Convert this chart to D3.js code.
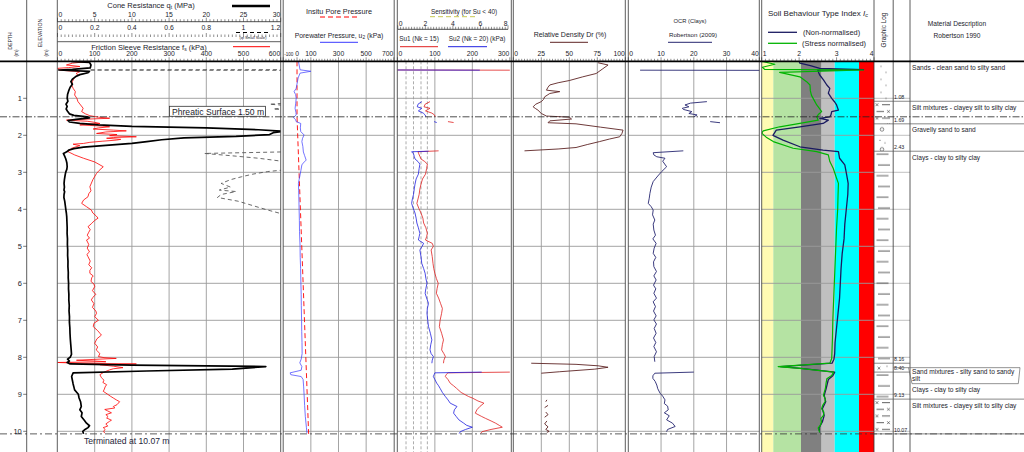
<!DOCTYPE html>
<html><head><meta charset="utf-8">
<script src="https://cdn.jsdelivr.net/npm/d3@7/dist/d3.min.js"></script>
<style>body{margin:0;background:#fff}svg{display:block;font-family:"Liberation Sans",Arial,sans-serif}</style>
</head><body><svg id="c" width="1024" height="452"></svg>
<script>
// ---------------- DATA ----------------
const depthTicks=[1,2,3,4,5,6,7,8,9,10];
const qcTicks=[0,5,10,15,20,25,30];
const qcSmallTicks=[0,0.2,0.4,0.6,0.8,1,1.2];
const fsTicks=[0,100,200,300,400,500,600];
const uTicks=[-100,0,100,300,500,700];
const uGrid=[100,300,500];
const sensTicks=[0,2,4,6,8];
const suTicks=[0,100,200,300];
const suRefLines=[23,43,63,80];
const drTicks=[0,25,50,75,100];
const ocrTicks=[0,10,20,30,40];
const icTicks=[1,2,3,4];
const icZoneBounds=[1,1.31,2.05,2.60,2.95,3.60,4];
const icZoneColors=["#fffbb3","#b5e3a3","#808080","#c0c0c0","#00ffff","#ff0000"];
const phreatic=1.50;
const termination=10.07;

// [depth m, qc MPa]
const qc=[[0,1.8],[0.03,4.3],[0.10,4.5],[0.18,4.4],[0.22,2.0],[0.235,0.17],[0.27,4.3],[0.31,4.1],[0.36,3.0],[0.42,2.4],[0.48,2.0],[0.55,1.8],[0.62,2.0],[0.70,1.7],[0.80,1.5],[0.90,1.35],[1.0,1.3],[1.08,1.4],[1.16,1.14],[1.22,1.3],[1.29,1.16],[1.35,1.35],[1.42,1.6],[1.46,2.2],[1.50,4.0],[1.53,4.3],[1.57,2.5],[1.60,1.4],[1.64,1.6],[1.68,3.0],[1.72,5.5],[1.76,10],[1.80,20],[1.85,27],[1.89,30.5],[1.93,29],[1.98,28.5],[2.03,24],[2.07,17],[2.12,14],[2.17,12],[2.22,10],[2.27,6.5],[2.32,3.5],[2.36,2.2],[2.40,1.5],[2.44,1.3],[2.47,1.0],[2.49,0.79],[2.55,0.93],[2.62,1.08],[2.69,1.19],[2.75,1.26],[2.85,1.3],[2.92,1.25],[2.98,1.13],[3.05,1.05],[3.12,0.99],[3.2,0.93],[3.3,0.88],[3.4,0.93],[3.48,0.87],[3.52,0.96],[3.6,0.88],[3.68,0.86],[3.78,0.97],[3.9,1.05],[4.02,1.13],[4.1,1.19],[4.2,1.24],[4.35,1.27],[4.5,1.3],[4.65,1.29],[4.8,1.34],[4.95,1.33],[5.1,1.37],[5.25,1.36],[5.4,1.41],[5.55,1.4],[5.7,1.45],[5.85,1.44],[6.0,1.49],[6.15,1.48],[6.3,1.53],[6.45,1.52],[6.6,1.58],[6.75,1.55],[6.9,1.61],[7.05,1.6],[7.2,1.66],[7.35,1.68],[7.5,1.72],[7.65,1.78],[7.8,1.84],[7.92,1.88],[8.0,1.7],[8.05,1.35],[8.1,1.6],[8.14,1.3],[8.18,1.7],[8.21,10],[8.25,28],[8.32,23.5],[8.37,12],[8.42,2.1],[8.52,1.9],[8.62,2.0],[8.72,2.1],[8.8,2.2],[8.88,2.3],[8.95,2.6],[9.0,2.8],[9.1,2.9],[9.2,3.1],[9.33,3.2],[9.42,3.0],[9.5,3.3],[9.6,3.2],[9.7,3.6],[9.78,3.9],[9.85,4.3],[9.9,4.1],[9.95,3.7],[10.0,3.4],[10.07,3.5]];

// [depth, fs kPa]
const fs=[[0.01,78],[0.05,40],[0.10,24],[0.14,60],[0.17,30],[0.19,0],[0.24,6],[0.28,60],[0.33,50],[0.37,55],[0.45,45],[0.55,40],[0.64,38],[0.73,42],[0.82,48],[0.91,46],[1.0,52],[1.09,55],[1.18,62],[1.27,69],[1.36,65],[1.42,75],[1.47,87],[1.51,110],[1.54,140],[1.57,60],[1.59,24],[1.62,80],[1.65,100],[1.68,114],[1.70,75],[1.72,60],[1.75,120],[1.77,140],[1.80,110],[1.83,96],[1.86,150],[1.88,185],[1.91,130],[1.95,105],[1.98,160],[2.01,140],[2.04,212],[2.06,150],[2.08,132],[2.11,170],[2.13,158],[2.16,120],[2.19,87],[2.22,70],[2.24,42],[2.28,60],[2.31,50],[2.35,38],[2.40,33],[2.44,28],[2.53,46],[2.62,70],[2.72,100],[2.85,123],[2.95,112],[3.03,105],[3.2,95],[3.39,87],[3.5,90],[3.58,84],[3.66,82],[3.75,70],[3.84,65],[3.93,78],[4.02,91],[4.1,95],[4.18,104],[4.24,109],[4.3,100],[4.38,92],[4.47,82],[4.55,88],[4.62,84],[4.7,80],[4.78,86],[4.83,78],[4.95,84],[5.05,80],[5.15,86],[5.22,79],[5.28,82],[5.4,88],[5.5,84],[5.58,92],[5.65,87],[5.73,87],[5.8,96],[5.85,92],[5.95,90],[6.02,98],[6.09,100],[6.2,94],[6.3,103],[6.38,95],[6.45,91],[6.55,98],[6.65,94],[6.75,103],[6.81,105],[6.9,100],[7.0,110],[7.08,98],[7.17,96],[7.28,108],[7.35,114],[7.40,118],[7.5,106],[7.62,100],[7.72,108],[7.8,104],[7.90,114],[7.98,110],[8.01,125],[8.03,158],[8.06,90],[8.08,51],[8.10,100],[8.12,130],[8.14,0],[8.16,60],[8.18,212],[8.2,114],[8.24,150],[8.28,176],[8.31,150],[8.34,140],[8.4,125],[8.47,114],[8.55,118],[8.62,125],[8.68,122],[8.74,132],[8.8,128],[8.86,126],[8.92,123],[9.0,135],[9.05,142],[9.1,150],[9.15,158],[9.2,167],[9.28,160],[9.33,150],[9.37,154],[9.41,127],[9.45,135],[9.5,145],[9.55,130],[9.6,136],[9.64,132],[9.7,145],[9.73,140],[9.8,130],[9.86,135],[9.9,123],[9.95,128],[10.0,124],[10.05,127]];

// [depth, u2 kPa]
const u2=[[0,10],[0.23,22],[0.27,100],[0.32,22],[0.45,8],[0.55,3],[0.73,-6],[0.82,-21],[0.9,-10],[1.0,-6],[1.15,-10],[1.27,-14],[1.38,-8],[1.45,-6],[1.52,-26],[1.58,-10],[1.63,-6],[1.68,27],[1.8,24],[1.9,27],[1.99,51],[2.08,40],[2.17,35],[2.3,42],[2.45,46],[2.55,55],[2.67,66],[2.75,45],[2.8,35],[2.95,28],[3.07,22],[3.2,15],[3.3,10],[3.5,12],[3.8,14],[4.0,15],[4.3,17],[4.6,18],[5.0,22],[5.3,23],[5.6,26],[6.0,28],[6.3,30],[6.6,31],[7.0,33],[7.3,34],[7.6,36],[7.9,37],[8.05,30],[8.15,20],[8.25,35],[8.35,30],[8.42,-50],[8.47,-45],[8.52,30],[8.6,44],[8.8,48],[9.0,51],[9.3,55],[9.6,60],[9.9,68],[10.05,72]];
// hydrostatic u0
const u0=[[0,0],[1.5,0],[10.07,84]];

// [depth, Su kPa], [null,null] = gap
const su1=[[0.235,0],[0.24,300],[null,null],[1.09,87],[1.16,74],[1.23,71],[1.27,87],[1.34,75],[1.40,92],[1.45,99],[1.50,101],[null,null],[1.63,135],[1.655,150],[null,null],[2.42,110],[2.445,55],[2.5,57],[2.57,60],[2.64,63],[2.71,73],[2.78,80],[2.9,78],[3.05,75],[3.18,67],[3.32,63],[3.45,60],[3.6,58],[3.72,55],[3.84,52],[3.97,57],[4.1,63],[4.24,68],[4.37,70],[4.5,76],[4.65,80],[4.74,78],[4.83,75],[4.92,93],[5.0,96],[5.1,90],[5.28,93],[5.46,95],[5.6,97],[5.73,100],[5.87,104],[6.0,109],[6.14,106],[6.27,104],[6.4,110],[6.54,115],[6.68,120],[6.81,118],[7.0,114],[7.17,112],[7.35,118],[7.53,123],[7.66,120],[7.8,118],[7.9,124],[7.98,128],[8.08,124],[8.16,123],[null,null],[8.40,300],[8.42,135],[8.47,130],[8.52,128],[8.6,135],[8.7,141],[8.77,150],[8.84,158],[8.95,170],[9.06,190],[9.1,200],[9.18,215],[9.24,231],[9.33,220],[9.42,212],[9.51,208],[9.6,225],[9.65,235],[9.72,250],[9.78,262],[9.84,272],[9.89,280],[9.95,250],[10.01,226],[10.06,222]];
const su2=[[0.235,0],[0.24,220],[null,null],[1.09,65],[1.16,55],[1.23,53],[1.27,65],[1.34,56],[1.40,69],[1.45,74],[1.50,76],[null,null],[1.63,98],[1.655,105],[null,null],[2.43,83],[2.445,38],[2.5,43],[2.57,45],[2.64,47],[2.71,55],[2.78,60],[2.9,58],[3.05,56],[3.18,50],[3.32,47],[3.45,45],[3.6,43],[3.72,40],[3.84,38],[3.97,42],[4.1,47],[4.24,50],[4.37,52],[4.5,56],[4.65,60],[4.74,58],[4.83,56],[4.92,70],[5.0,66],[5.1,60],[5.28,63],[5.46,65],[5.6,70],[5.73,74],[5.87,76],[6.0,79],[6.14,76],[6.27,74],[6.4,78],[6.54,83],[6.68,80],[6.81,79],[7.0,81],[7.17,83],[7.35,88],[7.53,92],[7.66,89],[7.8,87],[7.9,90],[7.98,96],[8.08,93],[8.16,92],[null,null],[8.40,225],[8.42,100],[8.47,98],[8.52,96],[8.6,100],[8.7,105],[8.77,110],[8.84,114],[8.95,120],[9.06,128],[9.15,135],[9.24,141],[9.33,159],[9.42,152],[9.51,150],[9.6,157],[9.69,164],[9.78,177],[9.84,185],[9.89,200],[9.95,182],[10.01,168],[10.06,165]];

// [depth, Dr %]
const dr=[[0.04,75.7],[0.10,84.6],[0.2,80],[0.33,74],[0.42,62],[0.52,50],[0.58,40],[0.64,32.6],[0.70,31],[0.78,29.6],[0.82,41.5],[0.87,32.6],[0.96,28],[1.03,27],[1.09,25],[1.16,20],[1.23,17.7],[1.28,20],[1.32,22],[1.41,25],[1.48,29.6],[1.51,50],[1.56,52],[1.61,32.6],[1.66,31],[1.69,56],[1.78,78],[1.86,98],[1.95,97],[2.04,95],[2.1,86],[2.17,77],[2.25,66],[2.33,56],[2.37,40],[2.42,10],[null,null],[8.16,16],[8.19,56],[8.23,75.7],[8.27,84.6],[8.32,72.8],[8.39,41.5],[8.43,25],[null,null],[9.15,30],[9.2,29],[null,null],[9.3,31],[9.36,28],[null,null],[9.48,29],[9.55,31],[9.62,28],[null,null],[9.72,30],[9.8,28],[9.88,31],[9.95,29],[10.0,32],[10.03,30]];

// [depth, OCR]
const ocr=[[0.24,3.6],[0.245,45],[null,null],[1.09,24],[1.13,19],[1.18,17.3],[1.23,18.5],[1.27,16.5],[1.30,16.8],[1.36,19.4],[1.41,18.5],[1.45,21],[1.5,20],[null,null],[1.63,25],[1.66,28],[null,null],[2.42,16.8],[2.47,7.6],[2.53,7.8],[2.58,8.7],[2.62,11.2],[2.7,10.5],[2.85,11.7],[2.98,10.2],[3.1,9.0],[3.25,7.6],[3.4,7.0],[3.57,6.6],[3.7,6.4],[3.84,6.1],[3.93,7.0],[4.02,7.6],[4.15,7.4],[4.29,8.1],[4.4,7.6],[4.56,7.8],[4.7,8.3],[4.8,7.5],[4.92,8.5],[5.05,7.9],[5.19,7.6],[5.3,8.4],[5.42,7.7],[5.55,7.8],[5.68,8.6],[5.8,7.8],[5.91,8.5],[6.05,7.7],[6.15,8.4],[6.27,7.8],[6.4,8.6],[6.5,7.6],[6.63,8.3],[6.75,7.7],[6.88,8.5],[6.99,7.8],[7.1,8.6],[7.22,7.9],[7.35,8.5],[7.48,7.7],[7.6,8.4],[7.71,7.8],[7.85,8.6],[7.98,7.9],[8.12,8.1],[null,null],[8.40,20],[8.43,8.1],[8.5,7.5],[8.57,7.5],[8.65,8.2],[8.75,8.7],[8.85,9.0],[8.97,9.7],[9.05,10.5],[9.15,11.2],[9.25,11.0],[9.32,12.0],[9.42,12.2],[9.5,11.0],[9.58,12.5],[9.69,11.7],[9.78,13.5],[9.87,14.3],[9.95,12.0],[10.01,11.7]];

// [depth, Ic]
const icNon=[[0,2.0],[0.05,2.02],[0.12,2.3],[0.19,2.55],[0.225,3.72],[0.24,2.5],[0.3,2.52],[0.37,2.55],[0.5,2.65],[0.64,2.74],[0.73,2.82],[0.8,2.8],[0.86,2.78],[1.0,2.87],[1.1,2.95],[1.18,3.0],[1.32,3.05],[1.36,2.87],[1.45,2.85],[1.5,2.82],[1.54,2.55],[1.59,2.78],[1.68,2.64],[1.77,2.02],[1.86,1.39],[2.0,1.30],[2.13,1.57],[2.31,2.02],[2.4,2.64],[2.44,3.05],[2.62,3.08],[2.8,3.22],[3.07,3.27],[3.3,3.31],[3.6,3.3],[4.0,3.26],[4.4,3.22],[4.8,3.2],[5.2,3.15],[5.6,3.12],[6.0,3.1],[6.4,3.08],[6.8,3.04],[7.2,3.0],[7.6,2.96],[7.9,2.95],[8.05,2.93],[8.16,2.88],[8.25,1.5],[8.3,2.05],[8.4,2.95],[8.5,2.9],[8.6,2.78],[8.85,2.72],[9.03,2.67],[9.2,2.71],[9.39,2.62],[9.57,2.67],[9.75,2.62],[9.91,2.53],[10.03,2.55]];
const icNorm=[[0,1.0],[0.08,1.35],[0.16,1.02],[0.22,1.08],[0.235,3.72],[0.30,1.48],[0.42,2.02],[0.55,2.2],[0.64,2.29],[0.8,2.3],[0.92,2.33],[1.05,2.4],[1.18,2.47],[1.3,2.56],[1.36,2.6],[1.43,2.52],[1.5,2.47],[1.59,2.51],[1.68,2.02],[1.77,1.48],[1.88,1.04],[1.94,1.0],[2.05,1.12],[2.17,1.31],[2.35,1.84],[2.44,2.47],[2.53,2.78],[2.71,2.82],[2.89,2.91],[3.16,3.0],[3.3,3.05],[3.6,3.04],[4.0,3.03],[4.5,3.0],[5.0,2.98],[5.5,2.96],[6.0,2.94],[6.5,2.92],[7.0,2.9],[7.5,2.89],[8.03,2.87],[8.16,2.82],[8.25,1.44],[8.3,2.02],[8.4,2.92],[8.49,2.87],[8.58,2.74],[8.7,2.72],[8.85,2.70],[8.95,2.67],[9.03,2.65],[9.12,2.7],[9.2,2.69],[9.3,2.63],[9.39,2.6],[9.48,2.66],[9.57,2.65],[9.66,2.58],[9.75,2.6],[9.85,2.56],[9.91,2.51],[10.03,2.55]];

// soil layers [top, bottom, description, symbol]
const layers=[
 [0,1.08,"Sands - clean sand to silty sand","sand"],
 [1.08,1.69,"Silt mixtures - clayey silt to silty clay","silt"],
 [1.69,2.43,"Gravelly sand to sand","gravel"],
 [2.43,8.16,"Clays - clay to silty clay","clay"],
 [8.16,8.40,"Sand mixtures - silty sand to sandy silt","sandmix"],
 [8.40,9.13,"Clays - clay to silty clay","clay"],
 [9.13,10.07,"Silt mixtures - clayey silt to silty clay","silt"]
];

// ---------------- LAYOUT ----------------
const W=1024,H=452,TOP=61.3;
const svg=d3.select("#c");
svg.append("rect").attr("width",W).attr("height",H).attr("fill","#fff");
const defs=svg.append("defs");
const y=d3.scaleLinear().domain([0,10]).range([TOP,431.3]);

const P={
 qc:[57.5,280.7], pp:[283.2,393.8], su:[397.4,510.5], dr:[513.3,625.3], ocr:[628.3,759.3], ic:[761.7,874]
};
const xqc=d3.scaleLinear([0,30],P.qc);
const xqcS=d3.scaleLinear([0,1.2],P.qc);
const xfs=d3.scaleLinear([0,600],P.qc);
const xu=d3.scaleLinear([-100,700],P.pp);
const xsens=d3.scaleLinear([0,8],[397.8,508]);
const xsu=d3.scaleLinear([0,300],[397.4,509.8]);
const xdr=d3.scaleLinear([0,100],P.dr);
const xocr=d3.scaleLinear([0,40],P.ocr);
const xic=d3.scaleLinear([1,4],P.ic);

Object.entries(P).forEach(([k,r])=>{
  defs.append("clipPath").attr("id","cl_"+k).append("rect")
   .attr("x",r[0]).attr("y",TOP).attr("width",r[1]-r[0]).attr("height",H-TOP);
});

const TXT="#1c1c2c";
function text(x,yy,s,size,anchor,opt){
  const t=svg.append("text").attr("x",x).attr("y",yy).attr("font-size",size).attr("fill",(opt&&opt.fill)||TXT)
   .attr("text-anchor",anchor||"middle").text(s);
  return t;
}
function hline(x0,x1,yy,col,w,dash){svg.append("line").attr("x1",x0).attr("x2",x1).attr("y1",yy).attr("y2",yy)
  .attr("stroke",col).attr("stroke-width",w).attr("stroke-dasharray",dash||null);}
function vline(x,y0,y1,col,w,dash){svg.append("line").attr("x1",x).attr("x2",x).attr("y1",y0).attr("y2",y1)
  .attr("stroke",col).attr("stroke-width",w).attr("stroke-dasharray",dash||null);}

// ---- Ic background zones
icZoneColors.forEach((c,i)=>{
  svg.append("rect").attr("x",xic(icZoneBounds[i])).attr("y",TOP)
   .attr("width",xic(icZoneBounds[i+1])-xic(icZoneBounds[i])).attr("height",H-TOP).attr("fill",c);
});

// ---- grids
const GRID="#9a9a9a";
function vgrid(scale,vals){vals.forEach(v=>vline(scale(v),TOP,H,GRID,0.9));}
vgrid(xqc,[5,10,15,20,25]);
vgrid(xu,uGrid);
vgrid(xsu,[100,200]);
vgrid(xdr,[25,50,75]);
vgrid(xocr,[10,20,30]);
suRefLines.forEach(v=>vline(xsu(v),TOP,H,"#8a8a8a",0.7,"3,2"));
depthTicks.forEach(d=>{
  Object.values(P).forEach(r=>hline(r[0],r[1],y(d),GRID,0.9));
  hline(874,910,y(d),"#b0b0b0",0.8);
});

// ---- series
function series(data,xs,clip,col,w,dash){
  svg.append("path").attr("d",d3.line().defined(d=>d[0]!=null&&d[1]!=null).x(d=>xs(d[1])).y(d=>y(d[0]))(data))
   .attr("fill","none").attr("stroke",col).attr("stroke-width",w).attr("stroke-linejoin","round")
   .attr("stroke-dasharray",dash||null).attr("clip-path","url(#cl_"+clip+")");
}
series(qc,xqcS,"qc","#444",0.8,"4,3");
series(fs,xfs,"qc","#ff0000",0.8);
series(qc,xqc,"qc","#000",1.7);
series(u0,xu,"pp","#ff0000",0.9,"5,3");
series(u2,xu,"pp","#3a3aff",0.7);
series(su1,xsu,"su","#e02020",0.8);
series(su2,xsu,"su","#2020e0",0.8);
series(dr,xdr,"dr","#5e2424",0.9);
series(ocr,xocr,"ocr","#262670",0.9);
series(icNon,xic,"ic","#1a1a60",1.3);
series(icNorm,xic,"ic","#00b400",1.2);

// ---- panel borders
const BORD="#333";
[26.7,57.3,280.7,283.2,394.2,397.3,511.3,513.3,625.3,628.3,759.3,761.7,874,893.2,910].forEach(x=>vline(x,0,H,BORD,0.8));

// ---- horizontal reference lines
hline(0,W,TOP,"#000",1.8);
hline(0,W,y(phreatic),"#222",0.8,"7,2,1.5,2");
hline(0,W,y(termination),"#333",0.8,"7,3,2,3");

// ---- rulers
function ruler(xs,yl,lo,hi,step,majors,fmt,labY,opts){
  opts=opts||{};
  const g=svg.append("g");
  d3.range(lo,hi+step*0.01,step).forEach(v=>{
    const big=majors.some(m=>Math.abs(m-v)<step*0.01);
    g.append("line").attr("x1",xs(v)).attr("x2",xs(v)).attr("y1",yl-(big?4:2.5)).attr("y2",yl).attr("stroke","#222").attr("stroke-width",0.5);
  });
  if(opts.domain) g.append("line").attr("x1",xs(lo)).attr("x2",xs(hi)).attr("y1",yl).attr("y2",yl).attr("stroke","#222").attr("stroke-width",0.8);
  majors.forEach((m,i)=>{
    let anc="middle",x=xs(m);
    if(i===0){anc="start";x=xs(m)+1;}
    if(i===majors.length-1){anc="end";x=xs(m)-0.5;}
    if(opts.anchor) anc=opts.anchor(m,i)||anc;
    const t=text(x,labY,fmt(m),opts.size?opts.size(m):6.8,anc);
    if(opts.dx) t.attr("x",x+opts.dx(m));
  });
}
const f0=d=>String(d);
ruler(xqc,21.7,0,30,0.5,qcTicks,f0,16.6,{domain:true});
ruler(xqcS,37,0,1.2,0.02,qcSmallTicks,f0,30.3);
ruler(xfs,TOP,0,600,10,fsTicks,f0,55.8);
ruler(xu,TOP,-100,700,20,uTicks,f0,55.8,{size:m=>m===-100?4.6:6.8,anchor:(m,i)=>i===1?"middle":null});
ruler(xsens,29.3,0,8,0.2,sensTicks,f0,25.6,{domain:true});
ruler(xsu,TOP,0,300,10,suTicks,f0,55.8);
ruler(xdr,TOP,0,100,2.5,drTicks,f0,55.8);
ruler(xocr,TOP,0,40,1,ocrTicks,f0,55.8);
ruler(xic,TOP,1,4,0.1,icTicks,f0,55.8);
hline(P.qc[0],P.qc[1],41.7,"#333",0.8);

// ---- headers
function sub(t,s,main2,sz){t.append("tspan").attr("font-size",sz).attr("dy",1.6).text(s);t.append("tspan").attr("dy",-1.6).text(main2);}
let t=text(151,7.8,"Cone Resistance q",7.5); sub(t,"t"," (MPa)",5);
hline(232,270,6,"#000",2.5);
hline(236,270,32.5,"#000",1,"4,3");
text(253,38.6,"(qt Small Scale)",3.8);
t=text(149,49.5,"Friction Sleeve Resistance f",7.5); sub(t,"s"," (kPa)",5);
hline(233,270,46.7,"#ff0000",1);

text(339,13.6,"Insitu Pore Pressure",7.3);
hline(320,358,17,"#ff0000",1,"5,3");
t=text(339,37.5,"Porewater Pressure, u",6.8); sub(t,"2"," (kPa)",4.8);
hline(320,358,42.3,"#3a3aff",1);

text(464,13.5,"Sensitivity (for Su < 40)",6.4);
hline(430,475,16.7,"#c8c850",1,"5,3");
text(419,41.3,"Su1 (Nk = 15)",6.4);
hline(400,438,46.7,"#e02020",1);
text(477,41.3,"Su2 (Nk = 20) (kPa)",6.4);
hline(448,487,46.7,"#2020e0",1);

text(570,36.8,"Relative Density Dr (%)",7);
hline(550,588,42.3,"#5e2424",1);

text(690,23.3,"OCR (Clays)",5.8);
text(693,36.6,"Robertson (2009)",6.2);
hline(668,712,42.3,"#262670",1);

t=text(818,15.8,"Soil Behaviour Type Index ",8);
t.append("tspan").attr("font-style","italic").text("I");
t.append("tspan").attr("font-style","italic").attr("font-size",5.5).attr("dy",1.6).text("c");
hline(768,797,32.3,"#1a1a60",1.3);
text(803,34.8,"(Non-normalised)",7.4,"start");
hline(768,797,43.3,"#00b400",1.3);
text(802,45.8,"(Stress normalised)",7.4,"start");

text(0,0,"Graphic Log",6.4).attr("transform","translate(885.5,30) rotate(-90)");
text(957,25.5,"Material Description",6.6);
text(957,37.6,"Robertson 1990",6.6);

text(0,0,"DEPTH",5.2).attr("transform","translate(12,41) rotate(-90)");
text(0,0,"(m)",4.6).attr("transform","translate(18,53) rotate(-90)");
text(0,0,"ELEVATION",5.2).attr("transform","translate(42,33) rotate(-90)");
text(0,0,"(m)",4.6).attr("transform","translate(48,53) rotate(-90)");

// ---- depth axis
depthTicks.forEach(d=>{
  text(21.8,y(d)+2.7,String(d),7.5,"end");
  hline(23.2,26.7,y(d),"#222",0.6);
});

// ---- labels
svg.append("rect").attr("x",169.5).attr("y",106.3).attr("width",96).attr("height",10)
  .attr("fill","#fff").attr("stroke","#333").attr("stroke-width",0.8);
text(172,114.6,"Phreatic Surface "+phreatic.toFixed(2)+" m",8.6,"start");
text(84,444,"Terminated at "+termination.toFixed(2)+" m",8.6,"start",{fill:"#26263a"});

// ---- graphic log patterns
function xmark(p,cx,cy){p.append("path").attr("d",`M${cx-1.4},${cy-1.4}l2.8,2.8m0,-2.8l-2.8,2.8`).attr("stroke","#333").attr("stroke-width",0.6).attr("fill","none");}
function dash(p,x0,x1,yy){p.append("line").attr("x1",x0).attr("x2",x1).attr("y1",yy).attr("y2",yy).attr("stroke","#333").attr("stroke-width",0.8);}
function dot(p,cx,cy){p.append("circle").attr("cx",cx).attr("cy",cy).attr("r",0.55).attr("fill","#444");}
layers.forEach((L,i)=>{
  const id="pat"+i, y0=y(L[0]);
  const p=defs.append("pattern").attr("id",id).attr("patternUnits","userSpaceOnUse").attr("x",874).attr("y",y0);
  if(L[3]==="sand"){p.attr("width",19).attr("height",13);dot(p,7,5);dot(p,12,11);}
  if(L[3]==="silt"){p.attr("width",19).attr("height",13.4);xmark(p,3,3.5);dash(p,8,16,3.5);dash(p,2.5,10,10.2);xmark(p,14.5,10.2);}
  if(L[3]==="gravel"){p.attr("width",19).attr("height",20);p.append("circle").attr("cx",8).attr("cy",5.5).attr("r",1.8).attr("fill","none").attr("stroke","#333").attr("stroke-width",0.6);dot(p,6,16.5);dot(p,11,19);}
  if(L[3]==="clay"){p.attr("width",19).attr("height",21.5);dash(p,2.5,14.5,3);dash(p,4,16,13.8);}
  if(L[3]==="sandmix"){p.attr("width",19).attr("height",10);xmark(p,5,5);dot(p,13,3);}
  svg.append("rect").attr("x",874).attr("y",y0).attr("width",19.2).attr("height",y(L[1])-y0).attr("fill",`url(#${id})`);
});

// ---- layer boundaries, depth labels, descriptions
let boxBottom=-1;
layers.forEach((L,i)=>{
  const yb=y(L[1]), thin=(L[1]-L[0])<0.5, nextThin=layers[i+1]&&(layers[i+1][1]-layers[i+1][0])<0.5;
  hline(874,(thin||nextThin)?910:W,yb,"#555",0.7);
  text(894,yb-1.8,L[1].toFixed(2),5.3,"start");
  const yt=y(L[0]);
  if(thin){
    const ym=(yt+yb)/2;
    const t1=text(912,ym+6.8,"",6.6,"start");
    const words=L[2].split(" "); let line=[]; let lines=[];
    words.forEach(w=>{line.push(w);t1.text(line.join(" "));if(t1.node().getComputedTextLength()>104){line.pop();lines.push(line.join(" "));line=[w];}});
    lines.push(line.join(" "));
    t1.text(lines[0]);
    lines.slice(1).forEach((s,k)=>text(912,ym+6.8+6.2*(k+1),s,6.6,"start"));
    const bb=ym+6.8+6.2*(lines.length-1)+3;
    svg.append("path").attr("d",`M893.2,${ym}L1020,${ym}L1018.3,${bb}L912,${bb}L908.5,${ym}`).attr("fill","none").attr("stroke","#666").attr("stroke-width",0.7);
    boxBottom=bb;
  } else {
    let by=yt+8.4;
    if(boxBottom>0&&by<boxBottom+8){by=boxBottom+8;}
    text(912,by,L[2],6.6,"start");
    boxBottom=-1;
  }
});
</script></body></html>
